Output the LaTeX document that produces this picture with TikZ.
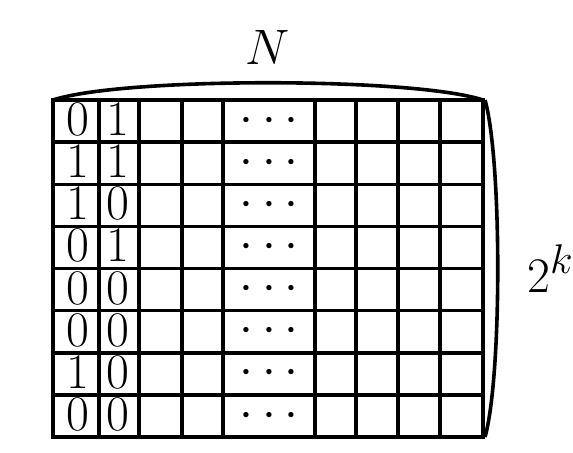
\documentclass[tikz,border=0pt]{standalone}
\begin{document}
\begin{tikzpicture}[x=0.5pt,y=-0.5pt,
  gridline/.style={line width=1.75pt},
  border/.style={line width=2pt},
  bendline/.style={line width=1.8pt},
  cell/.style={inner sep=0pt,font=\fontsize{24}{28}\selectfont}]
\useasboundingbox (0,0) rectangle (573,452);
% vertical lines
\foreach \x in {99,139,182,223,315,356,398,440}
  \draw[gridline] (\x,100) -- (\x,437);
% horizontal lines
\foreach \i in {1,...,7}
  \draw[gridline] (53,{100+42.125*\i}) -- (483,{100+42.125*\i});
\draw[border] (53,100) rectangle (483,437);
% cell contents
\foreach \a/\b [count=\r from 0] in {0/1,1/1,1/0,0/1,0/0,0/0,1/0,0/0}{
  \node[cell] (a\r) at (78,{100+42.125*(\r+0.5)-1.5}) {$\a$};
  \node[cell] (b\r) at (118,{100+42.125*(\r+0.5)-1.5}) {$\b$};
  \node[cell] (d\r) at (269,{100+42.125*(\r+0.5)}) {$\cdots$};
}
% curves
\coordinate (tl) at (53,100);
\coordinate (tr) at (483,100);
\coordinate (rt) at (485,100);
\coordinate (rb) at (485,437);
\draw[bendline] (tl) .. controls (123,77) and (413,77) .. (tr);
\draw[bendline] (rt) .. controls (502,160) and (502,377) .. (rb);
% labels
\node[inner sep=0pt,font=\fontsize{27}{30}\selectfont] (N) at (268,47) {$N$};
\node[anchor=base west,inner sep=0pt,font=\fontsize{29}{32}\selectfont] (K) at (527,292) {$2^k$};
\end{tikzpicture}
\end{document}
